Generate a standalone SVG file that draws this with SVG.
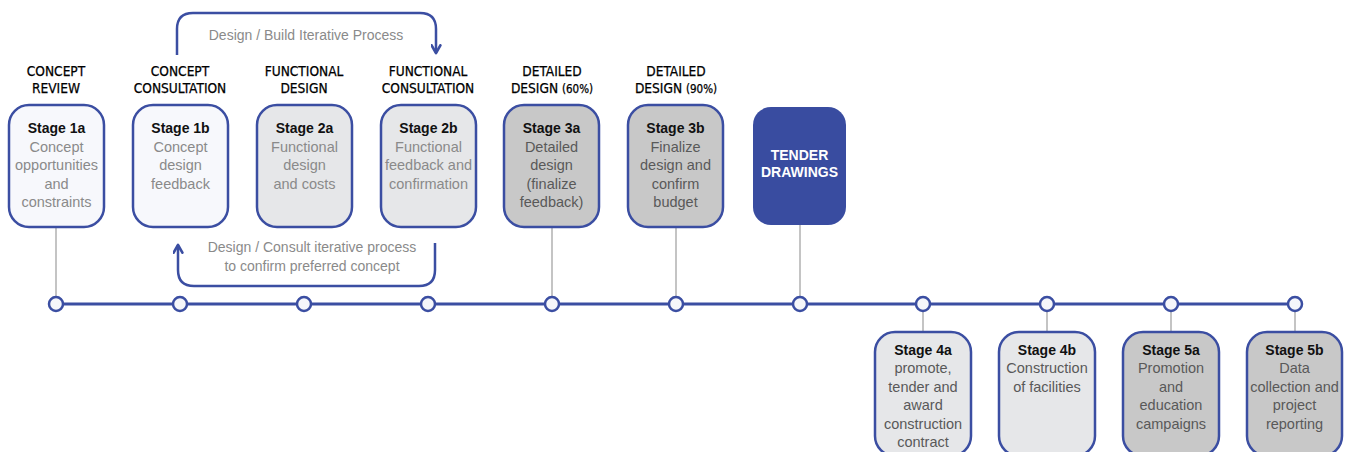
<svg xmlns="http://www.w3.org/2000/svg" width="1346" height="452" viewBox="0 0 1346 452">
<style>
.box{stroke:#3b4ea2;stroke-width:2.5}
.l1{fill:#f7f8fc}
.l2{fill:#e6e7e9}
.d{fill:#c8c8c8}
.hd{font-family:'DejaVu Sans Condensed','DejaVu Sans',sans-serif;font-stretch:condensed;font-size:13.6px;fill:#000;stroke:#000;stroke-width:0.25;text-anchor:middle}
.sm{font-size:11.5px}
.st{font-family:'Liberation Sans',Arial,sans-serif;font-size:14px;font-weight:bold;fill:#111;text-anchor:middle}
.bt{font-family:'Liberation Sans',Arial,sans-serif;font-size:14.5px;fill:#8a8a8a;text-anchor:middle}
.bd{fill:#595959}
.lab{font-family:'Liberation Sans',Arial,sans-serif;font-size:14px;fill:#8a8a8a;text-anchor:middle}
.tw{font-family:'Liberation Sans',Arial,sans-serif;font-size:14px;font-weight:bold;fill:#fff;text-anchor:middle}
.vc{stroke:#b0b0b0;stroke-width:1.5}
.loop{fill:none;stroke:#3b4ea2;stroke-width:2.5}
.dot{fill:#f5f6fa;stroke:#3b4ea2;stroke-width:2.5}
</style>
<defs>
<marker id="ah" viewBox="0 0 10 10" refX="8" refY="5" markerWidth="4.4" markerHeight="4.4" orient="auto" markerUnits="strokeWidth">
<path d="M1,1 L8,5 L1,9" fill="none" stroke="#3b4ea2" stroke-width="2.4" stroke-linecap="round" stroke-linejoin="round"/>
</marker>
</defs>

<g id="connectors">
<line class="vc" x1="56" y1="227" x2="56" y2="298"/>
<line class="vc" x1="552" y1="227" x2="552" y2="298"/>
<line class="vc" x1="676" y1="227" x2="676" y2="298"/>
<line class="vc" x1="800" y1="225" x2="800" y2="298"/>
<line class="vc" x1="923" y1="310" x2="923" y2="332"/>
<line class="vc" x1="1047" y1="310" x2="1047" y2="332"/>
<line class="vc" x1="1171" y1="310" x2="1171" y2="332"/>
<line class="vc" x1="1295" y1="310" x2="1295" y2="332"/>
<line x1="56" y1="304" x2="1295" y2="304" stroke="#3b4ea2" stroke-width="3"/>
<path class="loop" d="M177,55 V29 Q177,13 193,13 H420 Q436,13 436,29 V53" marker-end="url(#ah)"/>
<path class="loop" d="M435,243 V270 Q435,286 419,286 H194 Q178,286 178,270 V245" marker-end="url(#ah)"/>
<text class="lab" x="306" y="40">Design / Build Iterative Process</text>
<text class="lab" x="312" y="252">Design / Consult iterative process</text>
<text class="lab" x="312" y="271">to confirm preferred concept</text>
</g>

<g id="timeline-dots">
<circle class="dot" cx="56" cy="304" r="7"/>
<circle class="dot" cx="180" cy="304" r="7"/>
<circle class="dot" cx="304" cy="304" r="7"/>
<circle class="dot" cx="428" cy="304" r="7"/>
<circle class="dot" cx="552" cy="304" r="7"/>
<circle class="dot" cx="676" cy="304" r="7"/>
<circle class="dot" cx="800" cy="304" r="7"/>
<circle class="dot" cx="923" cy="304" r="7"/>
<circle class="dot" cx="1047" cy="304" r="7"/>
<circle class="dot" cx="1171" cy="304" r="7"/>
<circle class="dot" cx="1295" cy="304" r="7"/>
</g>

<g id="headers">
<text class="hd" x="56" y="76">CONCEPT</text>
<text class="hd" x="56" y="93">REVIEW</text>
<text class="hd" x="180" y="76">CONCEPT</text>
<text class="hd" x="180" y="93">CONSULTATION</text>
<text class="hd" x="304" y="76">FUNCTIONAL</text>
<text class="hd" x="304" y="93">DESIGN</text>
<text class="hd" x="428" y="76">FUNCTIONAL</text>
<text class="hd" x="428" y="93">CONSULTATION</text>
<text class="hd" x="552" y="76">DETAILED</text>
<text class="hd" x="552" y="93">DESIGN <tspan class="sm">(60%)</tspan></text>
<text class="hd" x="676" y="76">DETAILED</text>
<text class="hd" x="676" y="93">DESIGN <tspan class="sm">(90%)</tspan></text>
</g>

<g id="stage-1a">
<rect class="box l1" x="9" y="105" width="95" height="122" rx="20"/>
<text class="st" x="56.5" y="133">Stage 1a</text>
<text class="bt" x="56.5" y="152">Concept</text>
<text class="bt" x="56.5" y="170">opportunities</text>
<text class="bt" x="56.5" y="189">and</text>
<text class="bt" x="56.5" y="207">constraints</text>
</g>
<g id="stage-1b">
<rect class="box l1" x="133" y="105" width="95" height="122" rx="20"/>
<text class="st" x="180.5" y="133">Stage 1b</text>
<text class="bt" x="180.5" y="152">Concept</text>
<text class="bt" x="180.5" y="170">design</text>
<text class="bt" x="180.5" y="189">feedback</text>
</g>
<g id="stage-2a">
<rect class="box l2" x="257" y="105" width="95" height="122" rx="20"/>
<text class="st" x="304.5" y="133">Stage 2a</text>
<text class="bt" x="304.5" y="152">Functional</text>
<text class="bt" x="304.5" y="170">design</text>
<text class="bt" x="304.5" y="189">and costs</text>
</g>
<g id="stage-2b">
<rect class="box l2" x="381" y="105" width="95" height="122" rx="20"/>
<text class="st" x="428.5" y="133">Stage 2b</text>
<text class="bt" x="428.5" y="152">Functional</text>
<text class="bt" x="428.5" y="170">feedback and</text>
<text class="bt" x="428.5" y="189">confirmation</text>
</g>
<g id="stage-3a">
<rect class="box d" x="504" y="105" width="95" height="122" rx="20"/>
<text class="st" x="551.5" y="133">Stage 3a</text>
<text class="bt bd" x="551.5" y="152">Detailed</text>
<text class="bt bd" x="551.5" y="170">design</text>
<text class="bt bd" x="551.5" y="189">(finalize</text>
<text class="bt bd" x="551.5" y="207">feedback)</text>
</g>
<g id="stage-3b">
<rect class="box d" x="628" y="105" width="95" height="122" rx="20"/>
<text class="st" x="675.5" y="133">Stage 3b</text>
<text class="bt bd" x="675.5" y="152">Finalize</text>
<text class="bt bd" x="675.5" y="170">design and</text>
<text class="bt bd" x="675.5" y="189">confirm</text>
<text class="bt bd" x="675.5" y="207">budget</text>
</g>
<g id="tender-drawings">
<rect x="753" y="107" width="93" height="118" rx="18" fill="#394ca0"/>
<text class="tw" x="799.5" y="160">TENDER</text>
<text class="tw" x="799.5" y="177">DRAWINGS</text>
</g>
<g id="stage-4a">
<rect class="box l2" x="875" y="332" width="96" height="124" rx="20"/>
<text class="st" x="923" y="355">Stage 4a</text>
<text class="bt bd" x="923" y="373">promote,</text>
<text class="bt bd" x="923" y="392">tender and</text>
<text class="bt bd" x="923" y="410">award</text>
<text class="bt bd" x="923" y="429">construction</text>
<text class="bt bd" x="923" y="447">contract</text>
</g>
<g id="stage-4b">
<rect class="box l2" x="999" y="332" width="96" height="124" rx="20"/>
<text class="st" x="1047" y="355">Stage 4b</text>
<text class="bt bd" x="1047" y="373">Construction</text>
<text class="bt bd" x="1047" y="392">of facilities</text>
</g>
<g id="stage-5a">
<rect class="box d" x="1123" y="332" width="96" height="124" rx="20"/>
<text class="st" x="1171" y="355">Stage 5a</text>
<text class="bt bd" x="1171" y="373">Promotion</text>
<text class="bt bd" x="1171" y="392">and</text>
<text class="bt bd" x="1171" y="410">education</text>
<text class="bt bd" x="1171" y="429">campaigns</text>
</g>
<g id="stage-5b">
<rect class="box d" x="1247" y="332" width="95" height="124" rx="20"/>
<text class="st" x="1294.5" y="355">Stage 5b</text>
<text class="bt bd" x="1294.5" y="373">Data</text>
<text class="bt bd" x="1294.5" y="392">collection and</text>
<text class="bt bd" x="1294.5" y="410">project</text>
<text class="bt bd" x="1294.5" y="429">reporting</text>
</g>
</svg>
